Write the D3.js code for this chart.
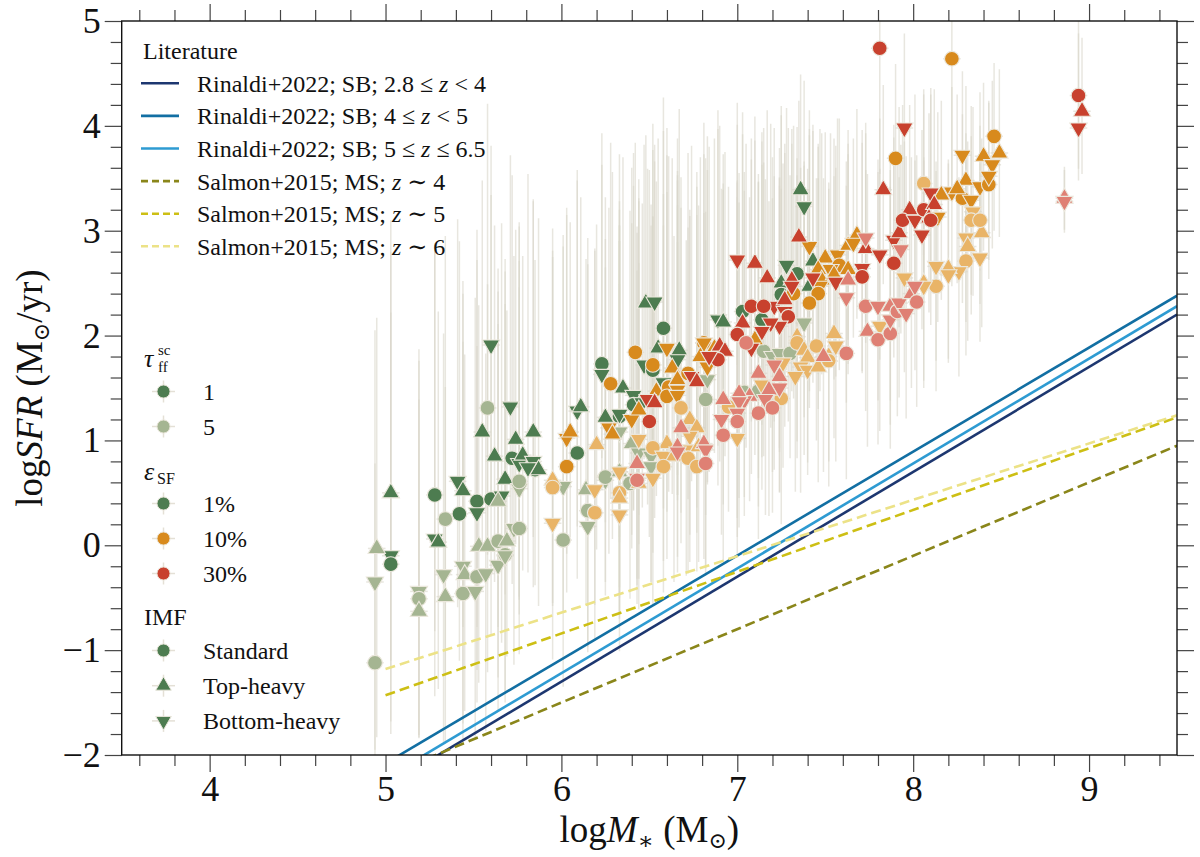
<!DOCTYPE html>
<head>
  <meta charset="UTF-8">
  <title>sfr</title>
  <style>
  body, html, div, svg{
    padding: 0;
    margin: 0;
  }
  body{
    background: #fff;
  }
  </style>
</head>
<body>
  <script src="https://cdn.jsdelivr.net/npm/d3@7"></script>
  <script type="text/javascript">
  // rows: [logM, logSFR, imf, errDown, errUp]   imf: s standard, t top-heavy, b bottom-heavy
  var eps1Tau1 = [
    [5.03,0.50,'t',1.6,2.6],[5.03,-0.10,'b',1.7,2.9],[5.03,-0.18,'s',1.5,2.4],[5.28,0.48,'s',1.3,2.4],
    [5.28,0.06,'b',1.5,2.8],[5.30,0.03,'t',1.4,2.2],[5.41,0.61,'b',1.2,2.5],[5.44,0.52,'t',1.3,2.0],
    [5.42,0.30,'s',1.4,2.6],[5.52,0.42,'s',1.2,2.3],[5.52,0.31,'b',1.5,2.7],[5.55,1.08,'t',1.1,2.4],
    [5.60,1.91,'b',1.4,1.9],[5.60,0.44,'s',1.3,2.9],[5.62,0.85,'t',1.2,2.2],[5.66,0.47,'b',1.4,2.6],
    [5.68,0.63,'t',1.1,2.1],[5.71,1.32,'b',1.3,2.4],[5.74,1.01,'t',1.0,2.0],[5.72,0.83,'s',1.2,2.7],
    [5.76,0.78,'b',1.3,2.3],[5.78,0.86,'t',1.1,1.9],[5.84,1.08,'t',1.0,2.2],[5.84,0.80,'b',1.2,2.5],
    [5.85,0.72,'s',1.1,2.0],[5.87,0.72,'t',1.3,2.4],[5.81,0.74,'b',1.0,2.8],[6.09,1.28,'b',1.1,2.3],
    [6.11,1.32,'t',1.0,2.0],[6.09,0.88,'s',1.2,2.6],[6.23,1.73,'s',0.9,1.9],[6.23,1.63,'b',1.1,2.3],
    [6.25,1.22,'t',1.0,2.1],[6.33,1.23,'s',1.2,2.5],[6.33,1.25,'b',0.9,1.8],[6.35,1.50,'t',1.0,2.2],
    [6.41,1.43,'b',1.1,2.0],[6.47,1.72,'b',0.9,2.1],[6.48,2.31,'t',1.0,1.6],[6.41,1.34,'s',1.0,2.4],
    [7.36,3.39,'t',0.8,1.1],[7.38,3.23,'b',0.9,1.2],[7.28,2.67,'b',1.0,1.5],[7.34,2.59,'s',0.9,1.4],
    [7.25,2.50,'t',1.1,1.6],[7.25,2.39,'s',1.0,1.8],[7.03,2.23,'s',1.1,1.9],[7.14,2.15,'s',1.0,1.7],
    [6.89,2.15,'b',1.2,2.0],[6.92,2.13,'t',1.0,1.6],[6.58,2.07,'s',1.1,2.2],[6.53,2.32,'b',1.0,1.5],
    [6.55,1.88,'t',1.2,2.0],[6.67,1.86,'t',1.0,2.3],[6.66,1.77,'b',1.1,1.8],[6.52,1.67,'s',1.0,2.1],
    [6.58,1.55,'b',1.2,2.4],[6.46,1.36,'b',1.0,1.9],[7.43,2.71,'t',0.9,1.3],[7.41,2.47,'t',1.0,1.5]
  ];
  var eps1Tau5 = [
    [4.95,-0.03,'t',1.8,2.2],[4.94,-0.35,'b',1.6,2.4],[4.94,-1.12,'s',0.9,1.9],[5.19,-0.44,'b',1.4,2.2],
    [5.19,-0.51,'s',1.3,1.9],[5.19,-0.63,'t',1.2,2.5],[5.34,0.25,'s',1.5,2.7],[5.33,-0.28,'b',1.6,2.3],
    [5.34,-0.49,'t',1.4,2.0],[5.44,-0.20,'b',1.5,2.6],[5.45,-0.28,'t',1.3,2.1],[5.44,-0.46,'s',1.4,2.4],
    [5.52,-0.30,'s',1.2,2.2],[5.51,-0.44,'b',1.4,2.8],[5.53,-0.01,'t',1.3,2.3],[5.58,1.31,'s',1.4,2.9],
    [5.58,-0.01,'t',1.2,2.5],[5.57,-0.27,'b',1.5,2.1],[5.64,0.04,'s',1.3,2.6],[5.64,-0.19,'b',1.4,2.3],
    [5.64,0.42,'t',1.2,2.0],[5.68,-0.09,'s',1.3,2.7],[5.69,0.04,'t',1.1,2.2],[5.68,-0.10,'b',1.4,2.4],
    [5.76,0.54,'b',1.2,2.5],[5.76,0.61,'s',1.1,2.1],[5.73,0.16,'b',1.3,2.6],[5.76,0.16,'s',1.2,2.3],
    [6.01,0.56,'b',1.2,2.4],[6.01,0.05,'s',1.4,2.8],[6.14,0.53,'t',1.1,2.2],[6.15,0.33,'s',1.3,2.6],
    [6.15,0.18,'b',1.2,2.5],[6.25,0.62,'b',1.1,2.3],[6.25,0.65,'s',1.0,2.0],[6.33,1.08,'b',1.0,2.2],
    [6.33,0.70,'t',1.2,2.5],[6.39,0.59,'s',1.1,2.6],[6.40,0.97,'t',1.0,2.1],[6.44,0.88,'b',1.2,2.4],
    [6.83,1.58,'b',1.0,2.0],[6.82,1.39,'s',1.1,2.3],[6.51,0.85,'b',1.2,2.2],[6.51,0.75,'b',1.1,2.5],
    [7.15,1.85,'s',1.0,1.8],[7.20,1.80,'b',1.1,1.9],[7.24,1.83,'b',0.9,1.6],[7.30,1.83,'s',1.0,1.7],
    [7.38,2.12,'b',0.9,1.5],[7.12,1.47,'s',1.1,2.0],[7.04,1.46,'s',1.0,2.1]
  ];
  var eps10Tau1 = [
    [6.03,0.75,'s',1.2,2.4],[6.03,1.02,'b',1.1,2.2],[6.05,1.08,'t',1.0,2.0],[6.28,1.54,'s',1.1,2.3],
    [6.27,1.12,'b',1.2,2.1],[6.29,1.06,'t',1.0,2.5],[6.42,1.84,'s',1.0,2.0],[6.40,1.20,'b',1.1,2.4],
    [6.44,1.29,'t',1.0,2.2],[7.41,2.85,'b',0.9,1.3],[7.32,2.40,'s',1.0,1.6],[7.10,1.96,'t',1.1,1.9],
    [6.81,1.93,'s',1.0,2.1],[6.81,1.93,'b',1.2,1.8],[6.87,1.88,'t',1.0,2.0],[6.83,1.70,'b',1.1,2.2],
    [6.79,1.80,'t',1.0,1.9],[6.60,1.88,'b',1.1,2.1],[6.52,1.72,'s',1.0,2.3],[6.63,1.69,'t',1.2,2.0],
    [6.61,1.51,'s',1.0,2.2],[6.66,1.58,'t',1.1,1.9],[6.66,1.48,'b',1.0,2.4],[6.72,1.64,'s',1.2,2.1],
    [6.54,1.47,'t',1.0,2.0],[6.60,1.42,'s',1.1,2.3],[6.66,1.43,'b',1.0,2.1],[7.50,2.74,'t',0.9,1.2],
    [7.57,2.77,'b',0.8,1.3],[7.63,2.86,'t',0.9,1.1],[7.68,2.96,'t',0.8,1.2],[7.66,2.88,'b',0.9,1.0],
    [7.58,2.67,'s',1.0,1.4],[7.53,2.63,'b',0.9,1.3],[7.46,2.63,'t',1.0,1.2],[7.48,2.53,'t',0.9,1.4],
    [7.55,2.58,'t',1.0,1.3],[7.63,2.63,'t',0.9,1.2],[7.47,2.47,'b',1.0,1.5],[7.46,2.40,'s',1.1,1.4],
    [7.41,2.31,'s',1.0,1.6],[8.22,4.64,'s',1.3,0.9],[7.90,3.69,'s',1.0,0.9],[8.46,3.90,'s',0.9,0.7],
    [8.49,3.74,'t',0.8,0.8],[8.40,3.71,'t',0.9,0.7],[8.45,3.63,'b',0.8,0.8],[8.28,3.72,'b',0.9,0.8],
    [8.16,3.34,'t',1.0,0.9],[8.22,3.37,'b',0.9,1.0],[8.30,3.48,'t',0.8,0.9],[8.28,3.31,'s',1.0,0.8],
    [8.33,3.29,'b',0.9,0.9],[8.38,3.42,'b',0.8,0.9],[8.43,3.44,'s',0.9,0.8],[8.43,3.52,'b',0.8,0.7],
    [8.25,3.40,'t',0.9,0.9],[8.14,3.13,'b',1.0,1.0]
  ];
  var eps10Tau5 = [
    [5.95,0.62,'t',1.2,2.4],[5.95,0.55,'s',1.1,2.2],[5.95,0.21,'b',1.3,2.6],[6.19,0.31,'s',1.2,2.5],
    [6.19,0.53,'b',1.1,2.3],[6.20,0.96,'t',1.0,2.1],[6.33,0.50,'s',1.2,2.4],[6.33,0.45,'t',1.1,2.6],
    [6.33,0.29,'b',1.3,2.2],[6.44,1.01,'b',1.0,2.3],[6.44,0.59,'t',1.2,2.1],[6.68,1.31,'s',1.0,2.2],
    [6.73,1.20,'t',1.1,2.0],[6.77,1.12,'t',1.0,2.3],[6.73,1.04,'b',1.2,2.1],[6.60,0.97,'t',1.1,2.4],
    [6.52,0.93,'s',1.0,2.2],[6.71,0.91,'b',1.2,2.0],[6.78,0.94,'t',1.1,2.3],[6.58,0.85,'b',1.0,2.5],
    [6.64,0.85,'t',1.2,2.1],[6.72,0.83,'s',1.1,2.2],[6.77,0.75,'s',1.0,2.4],[6.58,0.75,'s',1.2,2.3],
    [6.33,0.70,'b',1.1,2.2],[6.52,0.64,'b',1.2,2.5],[7.34,1.99,'t',1.0,1.7],[7.34,1.93,'s',1.1,1.6],
    [7.38,1.86,'t',1.0,1.8],[7.45,1.90,'s',0.9,1.6],[7.55,2.02,'t',1.0,1.5],[7.56,1.90,'b',1.1,1.7],
    [7.40,1.79,'t',1.0,1.8],[7.36,1.70,'b',1.2,1.9],[7.40,1.67,'b',1.0,1.7],[7.46,1.70,'t',1.1,1.8],
    [7.52,1.80,'t',1.0,1.6],[7.52,1.76,'s',1.2,1.7],[7.26,1.74,'b',1.0,1.9],[7.33,1.61,'b',1.1,1.8],
    [7.25,1.40,'s',1.2,2.0],[7.14,1.53,'b',1.0,2.1],[7.00,1.02,'b',1.1,2.3],[6.95,1.32,'s',1.0,2.1],
    [7.81,2.09,'b',1.0,1.5],[7.95,2.55,'b',0.9,1.3],[8.06,2.50,'t',1.0,1.2],[8.06,3.45,'s',0.9,0.9],
    [8.30,2.93,'b',0.8,1.0],[8.39,2.98,'t',0.9,0.9],[8.34,3.18,'b',0.8,1.0],[8.33,3.10,'s',0.9,0.8],
    [8.38,3.10,'s',0.8,0.9],[8.31,2.85,'t',0.9,1.0],[8.38,2.74,'b',0.8,0.9],[8.30,2.71,'s',0.9,1.0],
    [8.26,2.61,'b',1.0,0.9],[8.20,2.64,'t',0.9,1.0],[8.20,2.58,'b',0.8,1.1],[8.13,2.66,'b',0.9,1.0],
    [8.13,2.47,'s',1.0,1.1],[8.06,2.47,'b',0.9,1.2]
  ];
  var eps30Tau1 = [
    [6.49,1.39,'b',1.0,2.2],[6.50,1.18,'s',1.1,2.4],[7.83,3.39,'t',0.9,1.0],[7.35,2.94,'t',0.9,1.3],
    [7.00,2.72,'b',1.0,1.5],[7.10,2.69,'t',0.9,1.4],[7.17,2.55,'t',1.0,1.6],[7.31,2.53,'t',0.9,1.3],
    [7.31,2.47,'b',1.0,1.5],[7.21,2.28,'b',1.1,1.7],[7.27,2.34,'t',1.0,1.4],[7.27,2.23,'b',1.1,1.6],
    [7.29,2.18,'s',1.0,1.8],[7.24,2.09,'b',1.2,1.7],[7.19,2.12,'b',1.0,1.9],[7.08,2.28,'s',1.1,1.6],
    [7.15,2.28,'s',1.0,1.7],[7.03,2.12,'t',1.1,1.8],[7.14,2.04,'b',1.2,1.9],[7.00,2.01,'s',1.1,2.0],
    [7.08,1.88,'b',1.2,1.8],[6.90,1.90,'t',1.1,2.1],[6.93,1.85,'t',1.0,1.9],[6.89,1.77,'s',1.2,2.2],
    [6.84,1.80,'b',1.1,2.0],[6.74,1.61,'b',1.0,2.2],[6.77,1.56,'t',1.2,2.0],[6.53,1.36,'t',1.1,2.3],
    [7.43,2.55,'b',1.0,1.4],[7.56,2.51,'b',0.9,1.3],[7.71,2.64,'b',1.0,1.2],[7.71,2.56,'s',0.9,1.4],
    [7.73,2.83,'t',0.9,1.1],[7.81,2.77,'b',1.0,1.3],[7.89,2.69,'s',0.9,1.2],[7.89,2.91,'b',0.8,1.1],
    [7.92,2.98,'t',0.9,1.2],[7.98,3.20,'t',0.8,1.0],[7.94,3.10,'s',0.9,1.1],[8.01,3.10,'b',0.8,1.2],
    [8.05,2.96,'b',0.9,1.0],[8.06,3.20,'s',0.8,1.1],[7.81,4.74,'s',1.2,1.0],[8.94,4.29,'s',0.7,0.8],
    [8.96,4.14,'t',0.6,0.7],[8.94,3.98,'b',0.5,0.9],[7.95,3.98,'b',1.0,0.9],[8.10,3.36,'b',0.9,1.0],
    [8.12,3.25,'t',0.8,1.1],[8.09,3.12,'t',0.9,1.0],[8.10,3.10,'s',1.0,1.2]
  ];
  var eps30Tau5 = [
    [6.43,0.78,'t',1.1,2.2],[6.43,0.64,'b',1.2,2.4],[6.43,0.62,'s',1.0,2.0],[7.05,1.93,'s',1.0,1.9],
    [6.68,1.12,'t',1.1,2.1],[6.66,0.94,'t',1.2,2.3],[6.66,0.89,'b',1.0,2.0],[6.81,0.97,'t',1.1,2.2],
    [6.82,0.91,'b',1.2,2.0],[6.82,0.78,'s',1.0,2.4],[7.73,2.93,'b',0.8,1.1],[7.63,2.53,'t',0.9,1.2],
    [7.62,2.36,'b',1.0,1.3],[7.93,2.82,'b',0.8,1.0],[7.62,1.83,'s',1.2,1.6],[7.49,1.80,'t',1.1,1.7],
    [7.21,1.72,'b',1.0,1.8],[7.24,1.61,'t',1.1,1.9],[7.24,1.50,'b',1.0,2.0],[7.18,1.48,'t',1.2,1.8],
    [7.12,1.64,'t',1.0,1.9],[7.16,1.39,'b',1.1,2.1],[7.20,1.31,'s',1.0,2.0],[7.12,1.26,'s',1.2,2.2],
    [7.07,1.42,'t',1.0,1.9],[7.04,1.38,'b',1.1,2.0],[7.01,1.45,'t',1.0,2.1],[7.01,1.37,'b',1.2,1.9],
    [7.00,1.26,'b',1.0,2.2],[7.00,1.18,'s',1.1,2.3],[6.92,1.39,'t',1.0,2.0],[6.91,1.20,'b',1.1,2.2],
    [6.92,1.05,'s',1.2,2.4],[7.73,2.28,'s',1.0,1.3],[7.80,2.28,'b',0.9,1.4],[7.74,2.04,'t',1.1,1.5],
    [7.80,1.96,'s',1.0,1.6],[7.87,2.02,'s',1.1,1.4],[7.87,2.15,'b',1.0,1.5],[7.87,2.28,'t',0.9,1.3],
    [7.91,2.23,'s',1.0,1.4],[7.92,2.31,'b',0.9,1.2],[7.96,2.21,'b',1.0,1.5],[7.99,2.40,'t',0.9,1.3],
    [8.01,2.47,'b',0.8,1.2],[8.02,2.32,'s',1.0,1.4],[8.86,3.31,'t',0.3,0.3],[8.86,3.28,'b',0.3,0.3]
  ];
  var massErr = 0.05;

  // literature relations, end points [logM0, logSFR0, logM1, logSFR1]
  var litNames = [
    'Rinaldi+2022; SB; 2.8 \u2264 z < 4',
    'Rinaldi+2022; SB; 4 \u2264 z < 5',
    'Rinaldi+2022; SB; 5 \u2264 z \u2264 6.5',
    'Salmon+2015; MS; z \u223c 4',
    'Salmon+2015; MS; z \u223c 5',
    'Salmon+2015; MS; z \u223c 6'
  ];
  var litLines = [
    [5.0, -2.30, 9.5, 2.20],
    [5.0, -2.08, 9.5, 2.38],
    [5.0, -2.22, 9.5, 2.28],
    [5.0, -2.20, 9.5, 0.95],
    [5.0, -1.43, 9.5, 1.22],
    [5.0, -1.18, 9.5, 1.24]
  ];
  var litColors = ['#1d3770', '#126fa3', '#2e9bd2', '#8a861a', '#cdbf14', '#ece287'];
  var litDashed = [false, false, false, true, true, true];

  var tauLabels = ['1', '5'];
  var epsLabels = ['1%', '10%', '30%'];
  var imfLabels = ['Standard', 'Top-heavy', 'Bottom-heavy'];

  var xMajor = [4, 5, 6, 7, 8, 9];
  var yMajor = [-2, -1, 0, 1, 2, 3, 4, 5];

  //画布
  var width = 1200, height = 857;
  var font = '"Liberation Serif", "DejaVu Serif", serif';
  var svg = d3.select('body')
    .append('svg')
    .attr('width', width)
    .attr('height', height)
    .attr('font-family', font);

  var pL = 121.7, pR = 1177, pT = 21, pB = 755;
  var x = d3.scaleLinear().domain([3.5, 9.5]).range([pL, pR]);
  var y = d3.scaleLinear().domain([-2, 5]).range([pB, pT]);

  svg.append('clipPath').attr('id', 'clip')
    .append('rect')
    .attr('x', pL).attr('y', pT)
    .attr('width', pR - pL).attr('height', pB - pT);

  var plot = svg.append('g').attr('clip-path', 'url(#clip)');

  var series = [
    {data: eps1Tau1, color: '#4d7c50'},
    {data: eps1Tau5, color: '#a5b592'},
    {data: eps10Tau1, color: '#d88a1d'},
    {data: eps10Tau5, color: '#e9b467'},
    {data: eps30Tau1, color: '#c8412e'},
    {data: eps30Tau5, color: '#df8074'}
  ];

  //误差棒
  var errG = plot.append('g')
    .attr('stroke', '#d9d5ca')
    .attr('stroke-opacity', 0.6)
    .attr('stroke-width', 1.5);
  series.forEach(function(s){
    errG.selectAll(null)
      .data(s.data)
      .enter()
      .append('line')
      .attr('x1', function(d){ return x(d[0]); })
      .attr('x2', function(d){ return x(d[0]); })
      .attr('y1', function(d){ return y(d[1] - d[3]); })
      .attr('y2', function(d){ return y(d[1] + d[4]); });
    errG.selectAll(null)
      .data(s.data)
      .enter()
      .append('line')
      .attr('x1', function(d){ return x(d[0] - massErr); })
      .attr('x2', function(d){ return x(d[0] + massErr); })
      .attr('y1', function(d){ return y(d[1]); })
      .attr('y2', function(d){ return y(d[1]); });
  });

  //文献关系
  plot.append('g')
    .selectAll('line')
    .data(litLines)
    .enter()
    .append('line')
    .attr('x1', function(d){ return x(d[0]); })
    .attr('y1', function(d){ return y(d[1]); })
    .attr('x2', function(d){ return x(d[2]); })
    .attr('y2', function(d){ return y(d[3]); })
    .attr('stroke', function(d, i){ return litColors[i]; })
    .attr('stroke-width', 2.6)
    .attr('stroke-dasharray', function(d, i){ return litDashed[i] ? '10,5' : null; });

  //点
  var circle = d3.symbol().type(d3.symbolCircle).size(170)();
  var tri = d3.symbol().type(d3.symbolTriangle).size(130)();
  function markerPath(imf){ return imf === 's' ? circle : tri; }
  function markerRot(imf){ return imf === 'b' ? ' rotate(180)' : ''; }

  series.forEach(function(s){
    plot.append('g')
      .selectAll('path')
      .data(s.data)
      .enter()
      .append('path')
      .attr('d', function(d){ return markerPath(d[2]); })
      .attr('transform', function(d){
        return 'translate(' + x(d[0]) + ',' + y(d[1]) + ')' + markerRot(d[2]);
      })
      .attr('fill', s.color)
      .attr('stroke', '#ebe7dc')
      .attr('stroke-width', 1.1);
  });

  //坐标轴
  var tickColor = '#444';
  var xMinor = d3.range(3.6, 9.45, 0.2).filter(function(v){ return Math.abs(v - Math.round(v)) > 0.05; });
  var yMinor = d3.range(-1.8, 4.95, 0.2).filter(function(v){ return Math.abs(v - Math.round(v)) > 0.05; });
  var fmt = d3.format('d');

  function addAxis(gen, tx, ty, labels){
    var g = svg.append('g')
      .attr('transform', 'translate(' + tx + ',' + ty + ')')
      .call(gen);
    g.select('.domain').remove();
    g.attr('font-family', font).attr('font-size', 36);
    g.selectAll('line').attr('stroke', tickColor).attr('stroke-width', 1.2);
    g.selectAll('text').attr('fill', '#111');
    if(!labels) g.selectAll('text').remove();
  }
  addAxis(d3.axisBottom(x).tickValues(xMajor).tickSize(17).tickPadding(3).tickFormat(fmt), 0, pB, true);
  addAxis(d3.axisBottom(x).tickValues(xMinor).tickSize(11), 0, pB, false);
  addAxis(d3.axisTop(x).tickValues(xMajor).tickSize(17), 0, pT, false);
  addAxis(d3.axisTop(x).tickValues(xMinor).tickSize(11), 0, pT, false);
  addAxis(d3.axisLeft(y).tickValues(yMajor).tickSize(17).tickPadding(4).tickFormat(fmt), pL, 0, true);
  addAxis(d3.axisLeft(y).tickValues(yMinor).tickSize(11), pL, 0, false);
  addAxis(d3.axisRight(y).tickValues(yMajor).tickSize(17), pR, 0, false);
  addAxis(d3.axisRight(y).tickValues(yMinor).tickSize(11), pR, 0, false);

  svg.append('rect')
    .attr('x', pL).attr('y', pT)
    .attr('width', pR - pL).attr('height', pB - pT)
    .attr('fill', 'none')
    .attr('stroke', '#111')
    .attr('stroke-width', 1.4);

  //轴标题
  var xl = svg.append('text')
    .attr('x', (pL + pR) / 2)
    .attr('y', 842)
    .attr('text-anchor', 'middle')
    .attr('font-size', 37)
    .attr('fill', '#111');
  xl.append('tspan').text('log');
  xl.append('tspan').attr('font-style', 'italic').text('M');
  xl.append('tspan').attr('font-size', 24).attr('dy', 7).text('\u2217');
  xl.append('tspan').attr('dy', -7).text(' (M');
  xl.append('tspan').attr('font-size', 22).attr('dy', 6).attr('font-family', '"DejaVu Serif", serif').text('\u2299');
  xl.append('tspan').attr('dy', -6).text(')');

  var yl = svg.append('text')
    .attr('transform', 'translate(42,' + ((pT + pB) / 2) + ') rotate(-90)')
    .attr('text-anchor', 'middle')
    .attr('font-size', 37)
    .attr('fill', '#111');
  yl.append('tspan').text('log');
  yl.append('tspan').attr('font-style', 'italic').text('SFR');
  yl.append('tspan').text(' (M');
  yl.append('tspan').attr('font-size', 22).attr('dy', 7).attr('font-family', '"DejaVu Serif", serif').text('\u2299');
  yl.append('tspan').attr('dy', -7).text('/yr)');

  //图例 文献
  var legFont = 24;
  svg.append('text')
    .attr('x', 143).attr('y', 59)
    .attr('font-size', legFont)
    .attr('fill', '#111')
    .text('Literature');

  var litRow = 32.6;
  litNames.forEach(function(name, i){
    var cy = 83.3 + i * litRow;
    svg.append('line')
      .attr('x1', 141).attr('x2', 179)
      .attr('y1', cy).attr('y2', cy)
      .attr('stroke', litColors[i])
      .attr('stroke-width', 2.6)
      .attr('stroke-dasharray', litDashed[i] ? '7,4' : null);
    var t = svg.append('text')
      .attr('x', 197).attr('y', cy)
      .attr('dy', '0.35em')
      .attr('font-size', legFont)
      .attr('fill', '#111');
    name.split('z').forEach(function(part, k){
      if(k > 0) t.append('tspan').attr('font-style', 'italic').text('z');
      t.append('tspan').text(part);
    });
  });

  //图例 模型
  function legendMarker(cy, color, imf, label){
    svg.append('line')
      .attr('x1', 152).attr('x2', 175).attr('y1', cy).attr('y2', cy)
      .attr('stroke', '#e4e0d6').attr('stroke-width', 1.5);
    svg.append('line')
      .attr('x1', 163.5).attr('x2', 163.5).attr('y1', cy - 11).attr('y2', cy + 11)
      .attr('stroke', '#e4e0d6').attr('stroke-width', 1.5);
    svg.append('path')
      .attr('d', imf === 's' ? d3.symbol().type(d3.symbolCircle).size(135)() : d3.symbol().type(d3.symbolTriangle).size(105)())
      .attr('transform', 'translate(163.5,' + cy + ')' + markerRot(imf))
      .attr('fill', color)
      .attr('stroke', '#ebe7dc')
      .attr('stroke-width', 1);
    svg.append('text')
      .attr('x', 203).attr('y', cy)
      .attr('dy', '0.35em')
      .attr('font-size', legFont)
      .attr('fill', '#111')
      .text(label);
  }

  var tauT = svg.append('text').attr('font-size', 26).attr('fill', '#111');
  tauT.append('tspan').attr('x', 144).attr('y', 367).attr('font-style', 'italic').text('\u03c4');
  svg.append('text').attr('x', 158).attr('y', 355).attr('font-size', 15).attr('fill', '#111').text('sc');
  svg.append('text').attr('x', 158).attr('y', 372).attr('font-size', 15).attr('fill', '#111').text('ff');
  var tauColors = ['#4d7c50', '#a5b592'];
  tauLabels.forEach(function(l, i){ legendMarker(391.5 + i * 35, tauColors[i], 's', l); });

  svg.append('text').attr('x', 144).attr('y', 480).attr('font-size', 26).attr('font-style', 'italic').attr('fill', '#111').text('\u03b5');
  svg.append('text').attr('x', 157).attr('y', 484).attr('font-size', 16).attr('fill', '#111').text('SF');
  var epsColors = ['#4d7c50', '#d88a1d', '#c8412e'];
  epsLabels.forEach(function(l, i){ legendMarker(503.5 + i * 35, epsColors[i], 's', l); });

  svg.append('text').attr('x', 144).attr('y', 625).attr('font-size', legFont).attr('fill', '#111').text('IMF');
  var imfCodes = ['s', 't', 'b'];
  imfLabels.forEach(function(l, i){ legendMarker(650.5 + i * 35.2, '#4d7c50', imfCodes[i], l); });
  </script>
</body>
</html>
